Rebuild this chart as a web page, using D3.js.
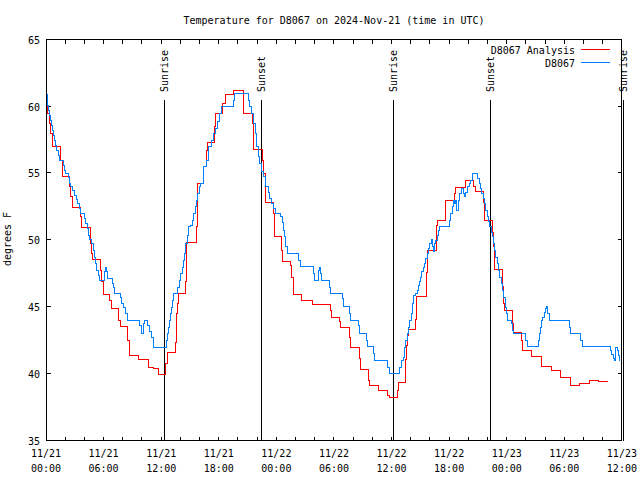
<!DOCTYPE html>
<html><head><meta charset="utf-8">
<script src="https://cdn.jsdelivr.net/npm/d3@7"></script>
<style>
html,body{margin:0;padding:0;background:#fff;}
svg{display:block;}
text{font-family:"DejaVu Sans Mono","Liberation Mono",monospace;font-size:10px;fill:#000;}
</style></head><body>
<svg id="chart" width="640" height="480"></svg>
<script>
const title = "Temperature for D8067 on 2024-Nov-21 (time in UTC)";
const yAxisLabel = "degrees F";
const seriesNames = ["D8067 Analysis", "D8067"];
const seriesColors = ["#ff0000", "#0080ff"];
const baseTime = Date.UTC(2024, 10, 21, 0, 0);
const yTicks = [35, 40, 45, 50, 55, 60, 65];
const xTickHours = [0, 6, 12, 18, 24, 30, 36, 42, 48, 54, 60];
const xTickDates = ["11/21","11/21","11/21","11/21","11/22","11/22","11/22","11/22","11/23","11/23","11/23"];
const xTickTimes = ["00:00","06:00","12:00","18:00","00:00","06:00","12:00","18:00","00:00","06:00","12:00"];
const eventHours = [12.32, 22.45, 36.25, 46.35, 60.2];
const eventLabels = ["Sunrise", "Sunset", "Sunrise", "Sunset", "Sunrise"];

// D8067 Analysis (hours since 11/21 00:00 UTC, degrees F)
const analysisHours = [0.00,0.14,0.35,0.52,0.69,1.49,1.70,1.77,2.40,2.60,2.74,3.61,3.75,4.62,4.76,4.83,5.66,5.80,5.97,6.63,6.81,7.60,7.71,8.54,8.72,9.65,10.66,11.18,11.67,12.50,12.71,13.47,13.61,13.72,13.78,14.58,14.69,15.63,15.76,16.39,16.74,16.81,17.57,17.64,18.40,18.68,19.58,20.56,21.53,21.67,22.57,22.67,22.85,23.68,23.85,24.55,24.65,25.49,25.59,25.76,26.60,27.74,29.62,29.76,30.56,30.73,31.60,31.74,32.64,32.74,33.60,33.71,34.65,35.59,35.76,36.60,36.70,37.47,37.57,37.71,37.81,38.54,38.60,39.60,39.72,40.66,40.76,41.59,41.66,42.53,42.64,43.68,44.58,44.72,45.56,45.66,46.53,46.67,46.74,47.53,47.65,47.75,48.58,48.68,49.55,49.65,50.63,51.67,52.67,53.65,54.65,55.63,56.67,57.60,58.50];
const analysisTemps = [60.5,59.45,58.7,57.95,57.0,55.95,55.2,54.75,53.95,53.2,52.4,51.7,50.88,49.7,48.95,48.5,47.7,46.83,45.9,45.45,44.83,43.95,43.5,42.45,41.3,41.05,40.45,40.33,39.9,40.7,41.58,42.33,44.45,45.25,45.95,46.83,49.78,50.95,54.2,55.45,56.7,57.28,58.45,59.45,60.2,60.83,61.13,59.45,58.7,56.78,55.95,54.95,52.75,51.95,50.2,49.2,48.4,48.1,47.2,45.9,45.45,45.15,44.7,44.2,43.85,43.45,42.7,41.9,41.1,40.25,39.45,39.1,38.7,38.33,38.15,38.7,39.28,41.05,42.05,42.8,43.25,44.05,45.75,47.55,49.2,51.05,51.4,52.45,52.95,53.45,53.9,54.4,53.95,53.6,52.8,51.45,50.55,49.45,47.8,46.5,45.2,44.7,43.7,43.05,42.45,41.7,41.25,40.5,40.2,39.7,39.08,39.2,39.45,39.35,39.35];

// D8067 observations
const obsHours = [0.00,0.14,0.24,0.35,0.45,0.56,0.66,0.76,0.87,0.97,1.11,1.28,1.39,1.81,1.91,2.01,2.36,2.47,2.57,2.78,2.99,3.13,3.33,3.54,3.61,4.03,4.13,4.31,4.44,4.55,4.76,4.93,5.03,5.17,5.31,5.45,5.59,6.11,6.22,6.32,6.42,6.88,7.01,7.15,7.71,7.88,8.06,8.30,8.47,9.79,9.97,10.14,10.24,10.56,10.83,11.04,11.25,12.57,12.67,12.78,12.88,12.99,13.09,13.19,13.33,13.75,13.89,14.03,14.17,14.31,14.44,14.58,14.72,14.86,15.07,15.24,15.38,15.59,15.73,15.83,15.97,16.11,16.46,16.67,16.88,17.26,17.43,17.64,17.85,18.06,18.26,19.58,19.69,21.08,21.25,21.46,21.67,21.84,21.98,22.12,22.29,22.47,22.64,22.92,23.13,23.33,23.54,23.75,23.96,24.41,24.69,24.79,24.90,25.00,25.20,26.32,26.53,27.85,27.95,28.37,28.47,28.60,28.72,29.58,29.69,30.90,30.97,31.67,31.74,32.60,32.71,33.40,33.47,34.17,34.27,35.56,35.76,36.81,37.05,37.22,37.36,37.50,37.64,37.78,37.92,38.06,38.19,38.33,38.47,38.68,38.78,38.89,39.03,39.17,39.31,39.44,39.58,39.72,39.86,40.00,40.17,40.28,40.38,40.49,40.59,40.76,40.90,41.04,41.18,42.08,42.19,42.33,42.47,42.60,42.71,42.81,42.95,43.13,43.30,43.47,43.60,43.75,43.92,44.10,44.27,44.44,45.00,45.14,45.28,45.42,45.56,45.69,45.83,45.97,46.11,46.25,46.39,46.49,46.60,46.74,46.88,47.01,47.15,47.29,47.43,47.57,47.71,47.85,47.99,48.13,48.54,48.61,48.68,49.99,50.14,51.28,51.39,51.49,51.60,51.74,51.94,52.08,52.19,52.29,52.43,54.51,54.65,55.69,55.87,58.82,58.96,59.10,59.24,59.38,59.51,59.62,59.72,59.80];
const obsTemps = [60.83,60.08,59.7,59.33,58.95,58.58,58.2,57.83,57.45,57.08,56.7,56.33,55.95,55.58,55.2,54.95,54.65,54.2,53.95,53.7,53.33,53.0,52.7,52.33,51.95,51.58,51.2,50.83,50.33,50.0,49.7,49.2,48.7,48.2,47.7,47.33,46.95,47.58,47.95,47.58,47.08,46.7,46.45,46.0,45.7,45.2,44.95,44.45,43.95,43.58,42.95,43.7,43.95,43.58,43.15,42.7,41.95,42.45,42.95,43.45,43.95,44.45,44.95,45.45,45.95,46.45,46.95,47.45,47.95,48.45,48.95,49.7,50.33,50.95,51.08,51.45,51.95,52.45,52.95,53.45,53.95,54.2,55.45,55.95,56.95,57.45,57.95,58.33,58.83,59.45,59.95,60.45,60.95,60.45,59.95,59.45,58.7,57.95,56.95,56.2,55.7,55.08,54.7,53.95,53.5,53.08,52.7,52.33,51.95,51.7,51.3,50.7,50.2,49.45,48.95,48.45,48.0,47.45,46.95,47.7,47.95,47.45,46.95,46.45,45.95,45.6,45.0,44.45,43.95,43.6,43.0,42.45,42.0,41.45,40.95,40.45,39.95,40.45,40.95,41.2,41.95,42.45,43.0,43.45,43.95,44.45,45.2,45.8,45.95,46.2,46.6,46.9,47.2,47.6,47.95,48.2,48.6,48.95,49.3,49.7,50.0,49.5,49.1,49.7,49.95,50.3,50.65,50.95,51.0,51.45,51.95,52.45,52.95,52.7,52.95,52.2,52.95,53.45,53.8,53.45,53.2,53.55,53.95,54.2,54.45,54.95,54.58,54.2,53.8,53.45,53.08,52.7,52.2,51.7,51.33,50.95,50.55,50.2,49.7,49.2,48.7,48.2,47.7,47.2,46.7,46.2,45.7,44.95,44.45,43.95,43.7,43.2,42.95,42.45,42.0,42.45,42.95,43.45,43.95,44.2,44.58,44.83,45.0,44.45,43.95,43.45,42.95,42.45,42.0,41.7,41.4,41.08,40.95,41.95,41.7,41.33,40.95,40.95];

const toDate = h => new Date(baseTime + h * 3600e3);
const svg = d3.select("#chart");
const x = d3.scaleUtc().domain([toDate(0), toDate(60)]).range([46, 621.9]);
const y = d3.scaleLinear().domain([35, 65]).range([440, 39.3]);
const snap = v => Math.floor(v) + 0.5;
const L = snap(x.range()[0]), R = snap(x.range()[1]), T = snap(y.range()[1]), B = snap(y.range()[0]);

svg.append("rect").attr("width", 640).attr("height", 480).attr("fill", "#fff");

const g = svg.append("g").attr("shape-rendering", "crispEdges");

// y ticks (both sides)
yTicks.forEach(v => {
  const yy = snap(y(v));
  g.append("line").attr("x1", L).attr("x2", L + 4).attr("y1", yy).attr("y2", yy).attr("stroke", "#000");
  g.append("line").attr("x1", R - 4).attr("x2", R).attr("y1", yy).attr("y2", yy).attr("stroke", "#000");
  svg.append("text").attr("x", 40).attr("y", yy + 4).attr("text-anchor", "end").text(v);
});

// x ticks every 2 hours (bottom and top)
d3.range(0, 61, 2).forEach(h => {
  const xx = snap(x(toDate(h)));
  g.append("line").attr("x1", xx).attr("x2", xx).attr("y1", B).attr("y2", B - 4).attr("stroke", "#000");
  g.append("line").attr("x1", xx).attr("x2", xx).attr("y1", T).attr("y2", T + 4).attr("stroke", "#000");
});
xTickHours.forEach((h, i) => {
  const xx = x(toDate(h));
  svg.append("text").attr("x", xx).attr("y", 457).attr("text-anchor", "middle").text(xTickDates[i]);
  svg.append("text").attr("x", xx).attr("y", 472).attr("text-anchor", "middle").text(xTickTimes[i]);
});

// sunrise / sunset markers
eventHours.forEach((h, i) => {
  const xx = snap(x(toDate(h)));
  g.append("line").attr("x1", xx).attr("x2", xx).attr("y1", 100).attr("y2", B).attr("stroke", "#000");
  svg.append("text").attr("transform", `translate(${xx + 3.5},92) rotate(-90)`).attr("text-anchor", "start").text(eventLabels[i]);
});

// series
const line = d3.line()
  .x(d => snap(x(toDate(d[0]))))
  .y(d => snap(y(d[1])))
  .curve(d3.curveStepAfter);
const series = [
  analysisHours.map((h, i) => [h, analysisTemps[i]]),
  obsHours.map((h, i) => [h, obsTemps[i]])
];
series.forEach((s, i) => {
  g.append("path").datum(s).attr("d", line).attr("fill", "none").attr("stroke", seriesColors[i]).attr("stroke-width", 1);
});

// border
g.append("rect").attr("x", L).attr("y", T).attr("width", R - L).attr("height", B - T)
  .attr("fill", "none").attr("stroke", "#000");

// legend
seriesNames.forEach((n, i) => {
  const yy = 49.5 + i * 13;
  svg.append("text").attr("x", 575).attr("y", yy + 4).attr("text-anchor", "end").text(n);
  g.append("line").attr("x1", 581).attr("x2", 610).attr("y1", yy).attr("y2", yy).attr("stroke", seriesColors[i]);
});

// title and axis label
svg.append("text").attr("x", 334).attr("y", 24).attr("text-anchor", "middle").text(title);
svg.append("text").attr("transform", "translate(11,239) rotate(-90)").attr("text-anchor", "middle").text(yAxisLabel);
</script>
</body></html>
